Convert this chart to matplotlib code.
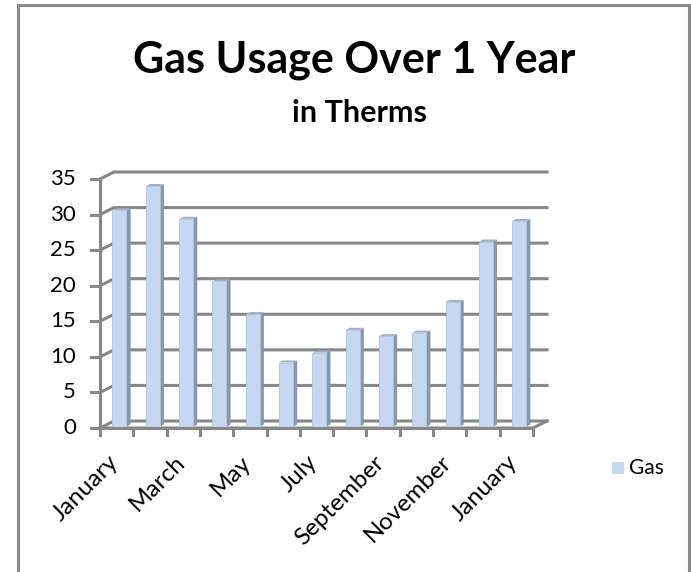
import matplotlib.pyplot as plt
import matplotlib.patches as mpatches
from matplotlib.lines import Line2D

plt.rcParams['font.family'] = ['Lato', 'DejaVu Sans']

# monthly gas usage, in therms
months = ["January", "February", "March", "April", "May", "June", "July",
          "August", "September", "October", "November", "December", "January"]
usage = [30.4, 33.8, 29.2, 20.4, 15.8, 9.0, 10.4, 13.6, 12.7, 13.2, 17.5, 26.0, 28.9]
y_ticks = [0, 5, 10, 15, 20, 25, 30, 35]

W, H = 691, 572
fig = plt.figure(figsize=(W / 100, H / 100), dpi=100)
fig.patch.set_facecolor("white")

# front plane of the plot box, in pixels
left, right, bottom, top = 100, 533, 428, 179
ax = fig.add_axes([left / W, 1 - bottom / H, (right - left) / W, (bottom - top) / H])
n = len(months)
ax.set_xlim(0, n)
ax.set_ylim(0, 35)
ax.axis("off")

px_x = (right - left) / n          # pixels per category
px_y = (bottom - top) / 35.0       # pixels per therm
DX, DY = 14 / px_x, 7 / px_y       # depth of the floor, in data units

grid_c = "#878787"
lw = 2.2

# walls: diagonal on the side wall, horizontal on the back wall
for v in y_ticks:
    ax.add_line(Line2D([0, DX, n + DX], [v, v + DY, v + DY], color=grid_c, lw=lw,
                       clip_on=False, zorder=1, solid_joinstyle="miter"))
# floor front and right edges
ax.add_line(Line2D([0, n, n + DX], [0, 0, DY], color=grid_c, lw=lw, clip_on=False, zorder=1))

# 3D columns
f = 0.2        # depth position of the column front face
d = 0.3        # column depth
bw = 0.42
front_c, side_c, top_c = "#c6d8f0", "#8797ae", "#a3afc2"
for i, val in enumerate(usage):
    x0 = i + 0.5 - bw / 2 + f * DX
    y0 = f * DY
    x1 = x0 + bw
    ox, oy = d * DX, d * DY
    side = mpatches.Polygon([(x1, y0), (x1 + ox, y0 + oy), (x1 + ox, y0 + val + oy), (x1, y0 + val)],
                            closed=True, facecolor=side_c, edgecolor="none", zorder=3, clip_on=False)
    cap = mpatches.Polygon([(x0, y0 + val), (x1, y0 + val), (x1 + ox, y0 + val + oy), (x0 + ox, y0 + val + oy)],
                           closed=True, facecolor=top_c, edgecolor="none", zorder=3, clip_on=False)
    ax.add_patch(side)
    ax.add_patch(cap)
    ax.bar(x0, val, width=bw, bottom=y0, align="edge", color=front_c,
           edgecolor="#b3c6e0", linewidth=0.6, zorder=4, clip_on=False)

# front axes and tick marks
ax.add_line(Line2D([0, 0], [0, 35], color=grid_c, lw=lw, clip_on=False, zorder=5))
ax.add_line(Line2D([0, n], [0, 0], color=grid_c, lw=lw, clip_on=False, zorder=5))
for v in y_ticks:
    ax.add_line(Line2D([-9 / px_x, 0], [v, v], color=grid_c, lw=lw, clip_on=False, zorder=5))
    ax.text(-24 / px_x, v, str(v), ha="right", va="center", fontsize=16, color="black")
for k in range(n + 1):
    ax.add_line(Line2D([k, k], [0, -7 / px_y], color=grid_c, lw=lw, clip_on=False, zorder=5))

# every other month along the bottom, tilted 45 degrees
for i in range(0, n, 2):
    ax.text(i + 0.5 - 2 / px_x, -31 / px_y, months[i], rotation=45, rotation_mode="anchor",
            ha="right", va="center", fontsize=17.5, color="black")

# titles
fig.text(354 / W, 1 - 60 / H, "Gas Usage Over 1 Year", ha="center", va="center",
         fontsize=31, fontweight="bold")
fig.text(359 / W, 1 - 113 / H, "in Therms", ha="center", va="center",
         fontsize=22, fontweight="bold")

# legend
fig.patches.append(mpatches.Rectangle((612 / W, 1 - 474 / H), 12 / W, 12 / H,
                                      transform=fig.transFigure, facecolor=front_c,
                                      edgecolor="none"))
fig.text(629 / W, 1 - 468 / H, "Gas", ha="left", va="center", fontsize=15)

# chart border
fig.patches.append(mpatches.Rectangle((18 / W, -0.05), 671 / W, 1.05 - 5 / H,
                                      transform=fig.transFigure, facecolor="none",
                                      edgecolor="#8a8a8a", linewidth=2.2))

fig.savefig("out.png", dpi=100)
